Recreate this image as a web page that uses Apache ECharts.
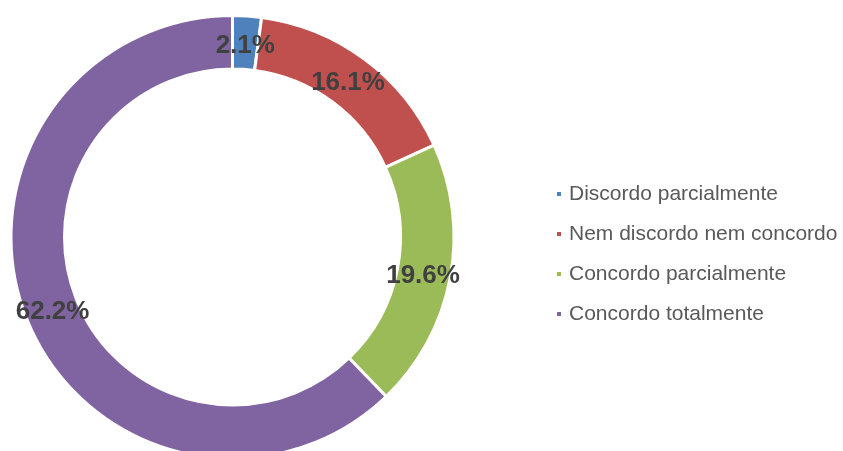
<!DOCTYPE html>
<html>
<head>
<meta charset="utf-8">
<script src="https://cdn.jsdelivr.net/npm/echarts@6/dist/echarts.min.js"></script>
<style>
html,body{margin:0;padding:0;background:#fff;}
#c{width:843px;height:451px;}
</style>
</head>
<body>
<div id="c"></div>
<script>
const categories = ['Discordo parcialmente', 'Nem discordo nem concordo', 'Concordo parcialmente', 'Concordo totalmente'];
const values = [2.1, 16.1, 19.6, 62.2];
const colors = ['#4F81BD', '#C0504D', '#9BBB59', '#8064A2'];

const center = [232.5, 237];
const pieData = categories.map((n, i) => ({ name: n, value: values[i] }));

const chart = echarts.init(document.getElementById('c'), null, {renderer: 'canvas'});
chart.setOption({
  animation: false,
  backgroundColor: '#ffffff',
  color: colors,
  legend: {
    orient: 'vertical',
    left: 555,
    top: 182,
    padding: 0,
    itemWidth: 6,
    itemHeight: 6,
    itemGap: 16,
    icon: 'rect',
    data: categories,
    textStyle: {
      fontFamily: 'Liberation Sans, Arial, sans-serif',
      fontSize: 21,
      color: '#595959',
      lineHeight: 24,
      padding: [0, 0, 0, 2]
    }
  },
  series: [{
    type: 'pie',
    center: center,
    radius: [168, 221.5],
    startAngle: 90,
    clockwise: true,
    avoidLabelOverlap: false,
    itemStyle: { borderColor: '#ffffff', borderWidth: 3 },
    label: { show: false },
    labelLine: { show: false },
    emphasis: { disabled: true },
    data: pieData
  }, {
    type: 'pie',
    center: center,
    radius: [161, 221],
    startAngle: 90,
    clockwise: true,
    silent: true,
    avoidLabelOverlap: false,
    itemStyle: { color: 'rgba(0,0,0,0)', borderWidth: 0 },
    label: {
      show: true,
      position: 'inside',
      offset: [0, 2],
      formatter: p => p.value.toFixed(1) + '%',
      fontFamily: 'Liberation Sans, Arial, sans-serif',
      fontSize: 26,
      fontWeight: 'bold',
      color: '#404040'
    },
    labelLine: { show: false },
    emphasis: { disabled: true },
    data: pieData
  }]
});
</script>
</body>
</html>
